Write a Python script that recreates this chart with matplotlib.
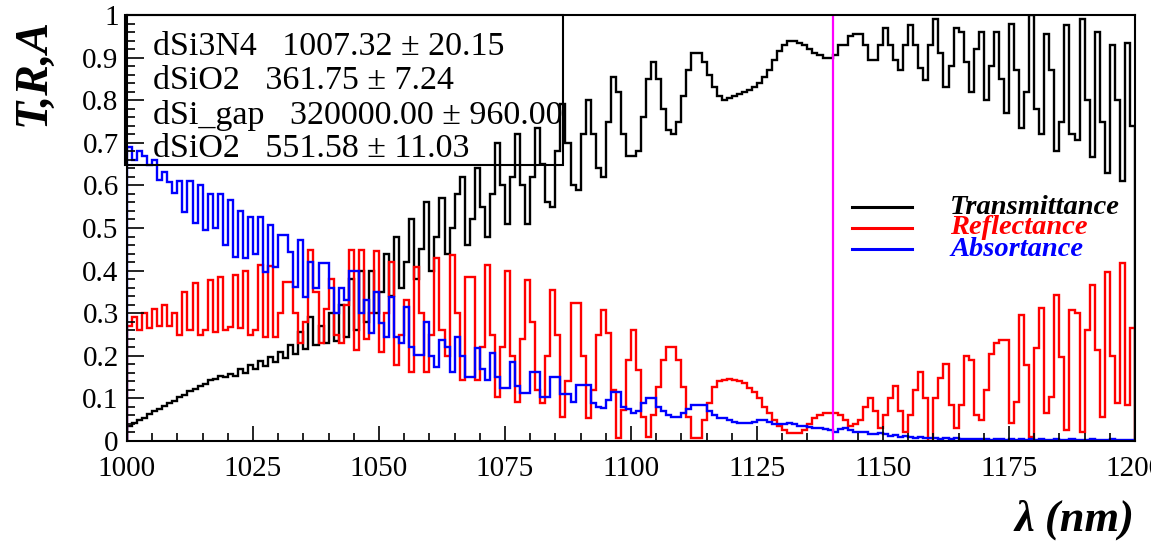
import numpy as np
import matplotlib
matplotlib.use("Agg")
import matplotlib.pyplot as plt
from matplotlib.patches import Rectangle
from matplotlib.ticker import MultipleLocator

# wavelength bins, 1 nm wide from 1000 to 1200 nm
lam_start = 1000
lam_stop = 1200

# transmittance, one value per bin
trans = [
    0.035, 0.042, 0.050, 0.055, 0.063, 0.070, 0.075, 0.083, 0.090, 0.095,
    0.103, 0.108, 0.118, 0.122, 0.130, 0.133, 0.143, 0.145, 0.152, 0.150,
    0.158, 0.152, 0.168, 0.160, 0.178, 0.168, 0.188, 0.175, 0.198, 0.185,
    0.210, 0.195, 0.225, 0.205, 0.255, 0.215, 0.290, 0.225, 0.270, 0.230,
    0.300, 0.235, 0.320, 0.245, 0.380, 0.260, 0.400, 0.280, 0.400, 0.300,
    0.350, 0.440, 0.340, 0.480, 0.360, 0.420, 0.520, 0.380, 0.450, 0.560,
    0.400, 0.480, 0.570, 0.440, 0.500, 0.580, 0.620, 0.460, 0.520, 0.640,
    0.550, 0.480, 0.580, 0.700, 0.600, 0.510, 0.620, 0.720, 0.600, 0.510,
    0.620, 0.735, 0.650, 0.560, 0.550, 0.680, 0.790, 0.700, 0.600, 0.590,
    0.720, 0.800, 0.720, 0.640, 0.620, 0.750, 0.855, 0.820, 0.720, 0.670,
    0.670, 0.680, 0.760, 0.850, 0.890, 0.850, 0.780, 0.730, 0.720, 0.750,
    0.810, 0.870, 0.910, 0.910, 0.890, 0.860, 0.830, 0.810, 0.800, 0.805,
    0.810, 0.815, 0.820, 0.825, 0.830, 0.840, 0.855, 0.870, 0.895, 0.915,
    0.930, 0.940, 0.940, 0.935, 0.930, 0.920, 0.910, 0.905, 0.900, 0.900,
    0.905, 0.930, 0.930, 0.950, 0.955, 0.955, 0.930, 0.894, 0.894, 0.930,
    0.970, 0.930, 0.894, 0.870, 0.930, 0.977, 0.930, 0.875, 0.847, 0.930,
    0.990, 0.910, 0.830, 0.880, 0.970, 0.960, 0.890, 0.820, 0.920, 0.960,
    0.800, 0.880, 0.960, 0.850, 0.770, 0.980, 0.870, 0.735, 0.820, 1.000,
    0.780, 0.720, 0.955, 0.870, 0.680, 0.750, 0.977, 0.720, 0.707, 0.990,
    0.800, 0.667, 0.960, 0.750, 0.630, 0.930, 0.800, 0.610, 0.934, 0.740,
]

# reflectance
refl = [
    0.270, 0.290, 0.260, 0.300, 0.265, 0.310, 0.270, 0.320, 0.270, 0.300,
    0.250, 0.350, 0.260, 0.370, 0.250, 0.260, 0.378, 0.255, 0.385, 0.260,
    0.268, 0.390, 0.265, 0.400, 0.250, 0.260, 0.413, 0.245, 0.410, 0.245,
    0.300, 0.373, 0.373, 0.300, 0.230, 0.280, 0.448, 0.350, 0.230, 0.310,
    0.380, 0.250, 0.230, 0.320, 0.448, 0.213, 0.448, 0.240, 0.300, 0.446,
    0.210, 0.300, 0.420, 0.178, 0.250, 0.330, 0.163, 0.409, 0.300, 0.163,
    0.250, 0.430, 0.260, 0.200, 0.437, 0.300, 0.143, 0.386, 0.386, 0.143,
    0.220, 0.413, 0.250, 0.104, 0.220, 0.400, 0.200, 0.092, 0.240, 0.378,
    0.280, 0.120, 0.090, 0.200, 0.354, 0.250, 0.057, 0.140, 0.324, 0.324,
    0.200, 0.054, 0.120, 0.250, 0.307, 0.253, 0.120, 0.007, 0.073, 0.190,
    0.260, 0.167, 0.057, 0.010, 0.060, 0.127, 0.190, 0.220, 0.220, 0.190,
    0.127, 0.057, 0.007, 0.007, 0.050, 0.090, 0.127, 0.140, 0.143, 0.145,
    0.143, 0.140, 0.135, 0.125, 0.115, 0.100, 0.080, 0.066, 0.050, 0.035,
    0.026, 0.018, 0.018, 0.018, 0.025, 0.040, 0.054, 0.062, 0.065, 0.065,
    0.065, 0.060, 0.050, 0.035, 0.040, 0.050, 0.080, 0.100, 0.070, 0.030,
    0.060, 0.100, 0.130, 0.070, 0.020, 0.060, 0.120, 0.163, 0.100, 0.000,
    0.100, 0.147, 0.180, 0.085, 0.030, 0.085, 0.200, 0.190, 0.060, 0.050,
    0.120, 0.205, 0.230, 0.237, 0.237, 0.042, 0.092, 0.296, 0.178, 0.010,
    0.218, 0.312, 0.066, 0.104, 0.343, 0.198, 0.026, 0.307, 0.300, 0.020,
    0.260, 0.366, 0.214, 0.057, 0.397, 0.200, 0.090, 0.418, 0.085, 0.265,
]

# absorptance
absor = [
    0.690, 0.660, 0.680, 0.670, 0.648, 0.660, 0.613, 0.632, 0.609, 0.582,
    0.610, 0.538, 0.610, 0.512, 0.600, 0.495, 0.580, 0.500, 0.580, 0.460,
    0.565, 0.433, 0.540, 0.430, 0.526, 0.440, 0.526, 0.397, 0.507, 0.409,
    0.484, 0.484, 0.444, 0.362, 0.472, 0.339, 0.420, 0.360, 0.418, 0.418,
    0.359, 0.300, 0.360, 0.330, 0.400, 0.400, 0.300, 0.330, 0.253, 0.350,
    0.277, 0.245, 0.339, 0.245, 0.230, 0.315, 0.220, 0.202, 0.202, 0.280,
    0.200, 0.174, 0.237, 0.220, 0.163, 0.245, 0.200, 0.151, 0.151, 0.218,
    0.170, 0.143, 0.206, 0.150, 0.124, 0.124, 0.186, 0.130, 0.112, 0.112,
    0.163, 0.163, 0.104, 0.104, 0.151, 0.151, 0.110, 0.110, 0.092, 0.131,
    0.131, 0.131, 0.090, 0.080, 0.077, 0.096, 0.115, 0.115, 0.079, 0.075,
    0.065, 0.070, 0.089, 0.100, 0.100, 0.080, 0.070, 0.060, 0.057, 0.057,
    0.065, 0.075, 0.085, 0.085, 0.085, 0.070, 0.060, 0.054, 0.054, 0.050,
    0.045, 0.042, 0.042, 0.042, 0.045, 0.050, 0.050, 0.045, 0.040, 0.040,
    0.040, 0.042, 0.040, 0.035, 0.035, 0.032, 0.030, 0.030, 0.028, 0.025,
    0.022, 0.028, 0.030, 0.025, 0.020, 0.022, 0.020, 0.016, 0.016, 0.018,
    0.016, 0.012, 0.014, 0.010, 0.012, 0.010, 0.008, 0.010, 0.008, 0.006,
    0.007, 0.005, 0.006, 0.004, 0.006, 0.005, 0.004, 0.005, 0.004, 0.005,
    0.004, 0.003, 0.005, 0.004, 0.003, 0.004, 0.003, 0.004, 0.003, 0.004,
    0.003, 0.004, 0.003, 0.003, 0.004, 0.003, 0.003, 0.004, 0.003, 0.003,
    0.003, 0.004, 0.003, 0.003, 0.003, 0.004, 0.003, 0.003, 0.003, 0.003,
]

marker_lam = 1140

fit_names = ["dSi3N4", "dSiO2", "dSi_gap", "dSiO2"]
fit_values = ["1007.32 \u00b1 20.15", "361.75 \u00b1 7.24",
              "320000.00 \u00b1 960.00", "551.58 \u00b1 11.03"]

series_names = ["Transmittance", "Reflectance", "Absortance"]
series_colors = ["black", "#ff0000", "#0000ff"]

x_ticks = [1000, 1025, 1050, 1075, 1100, 1125, 1150, 1175, 1200]
y_ticks = [0, 0.1, 0.2, 0.3, 0.4, 0.5, 0.6, 0.7, 0.8, 0.9, 1]
y_tick_labels = ["0", "0.1", "0.2", "0.3", "0.4", "0.5", "0.6", "0.7", "0.8", "0.9", "1"]

serif = ["Liberation Serif", "DejaVu Serif"]

W, H = 1151, 545
fig = plt.figure(figsize=(W / 100, H / 100), dpi=100)
ax = fig.add_axes([127 / W, 104 / H, 1008 / W, 426 / H])

edges = np.arange(lam_start, lam_stop + 1, 1)
for vals, col in zip([trans, refl, absor], series_colors):
    ax.stairs(vals, edges, color=col, lw=1.7, baseline=0)

ax.axvline(marker_lam, color="#ff00ff", lw=1.6)

ax.set_xlim(lam_start, lam_stop)
ax.set_ylim(0, 1)

ax.set_xticks(x_ticks)
ax.set_xticklabels([str(t) for t in x_ticks])
ax.set_yticks(y_ticks)
ax.set_yticklabels(y_tick_labels)
ax.xaxis.set_minor_locator(MultipleLocator(5))
ax.yaxis.set_minor_locator(MultipleLocator(0.02))
ax.tick_params(which="both", direction="in", top=False, right=False, width=1.2)
ax.tick_params(axis="x", which="major", length=11, pad=11)
ax.tick_params(axis="x", which="minor", length=5.5)
ax.tick_params(axis="y", which="major", length=12, pad=6)
ax.tick_params(axis="y", which="minor", length=6)
for lab in ax.get_xticklabels() + ax.get_yticklabels():
    lab.set_family(serif)
    lab.set_fontsize(21)
for sp in ax.spines.values():
    sp.set_linewidth(1.5)

# fit result box (no fill, curves show through)
fig.patches.append(Rectangle((125 / W, 1 - 165 / H), 438 / W, 150 / H,
                             transform=fig.transFigure, fill=False,
                             edgecolor="black", lw=1.5))
row_y = [47, 81, 115, 149]
for name, val, yy in zip(fit_names, fit_values, row_y):
    fig.text(153 / W, 1 - yy / H, name + "   " + val, family=serif,
             fontsize=24.5, va="center", ha="left")

# legend
leg_y = [207, 228, 249]
for name, col, yy in zip(series_names, series_colors, leg_y):
    fig.add_artist(plt.Line2D([852 / W, 912 / W], [1 - yy / H, 1 - yy / H],
                              transform=fig.transFigure, color=col, lw=2.2))
    fig.text(950 / W, 1 - yy / H, name, family=serif, fontsize=20.5,
             fontweight="bold", style="italic", color=col,
             va="center", ha="left")

# axis titles
fig.text(34 / W, 1 - 18 / H, "T,R,A", family=serif, fontsize=33,
         fontweight="bold", style="italic", rotation=90, ha="center", va="top")
fig.text(1135 / W, 1 - 520 / H, "\u03bb (nm)", family=serif, fontsize=32,
         fontweight="bold", style="italic", ha="right", va="center")

fig.savefig("out.png", dpi=100)
